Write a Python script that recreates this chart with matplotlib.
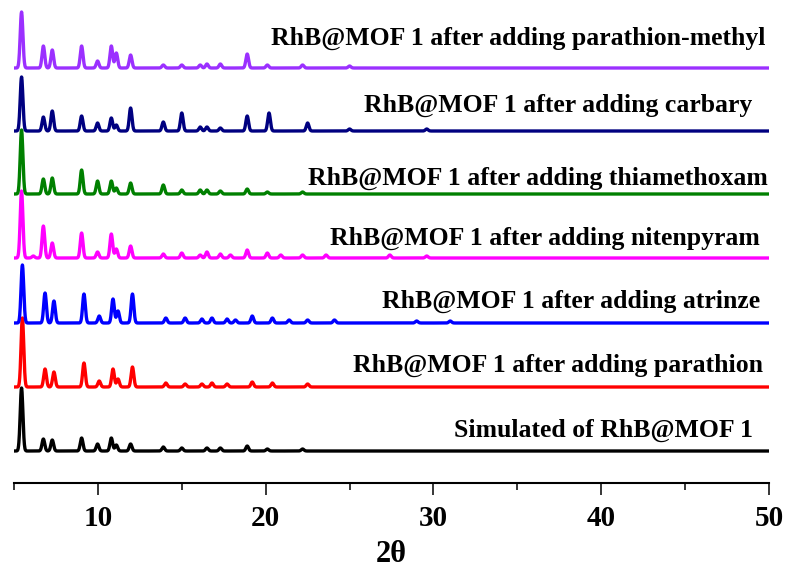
import numpy as np
import matplotlib.pyplot as plt
from matplotlib.ticker import MultipleLocator

plt.rcParams['font.family'] = ['Liberation Serif', 'DejaVu Serif']
plt.rcParams['font.weight'] = 'bold'

# peak positions (2theta) and heights, bottom to top
labels = ['Simulated of RhB@MOF 1',
          'RhB@MOF 1 after adding parathion',
          'RhB@MOF 1 after adding atrinze',
          'RhB@MOF 1 after adding nitenpyram',
          'RhB@MOF 1 after adding thiamethoxam',
          'RhB@MOF 1 after adding carbary',
          'RhB@MOF 1 after adding parathion-methyl']
colors = ['#000000', '#ff0000', '#0000ff', '#ff00ff', '#008000', '#000080', '#9b30ff']

pos_sim = [5.45, 6.75, 7.28, 9.03, 9.98, 10.8, 11.1, 11.95, 13.9, 15.0, 16.5, 17.3, 18.9, 20.1, 22.2]
int_sim = [63, 12, 11, 13, 7, 13, 6, 7, 4, 3, 3, 3, 5, 2, 2]

pos_para = [5.5, 6.85, 7.38, 9.17, 10.08, 10.9, 11.2, 12.06, 14.05, 15.2, 16.2, 16.8, 17.7, 19.2, 20.4, 22.5]
int_para = [69, 18, 15, 24, 6, 18, 8, 20, 4, 3, 3, 4, 3, 5, 4, 3]

pos_atr = [5.5, 6.85, 7.38, 9.17, 10.08, 10.9, 11.2, 12.06, 14.05, 15.2, 16.2, 16.8, 17.7, 18.2, 19.2, 20.4, 21.4, 22.5, 24.1, 29.0, 31.0]
int_atr = [58, 30, 22, 29, 7, 24, 12, 29, 5, 5, 4, 5, 4, 3, 7, 5, 3, 3, 3, 2, 2]

pos_nit = [5.45, 6.15, 6.75, 7.28, 9.03, 9.98, 10.8, 11.1, 11.95, 13.9, 15.0, 16.1, 16.5, 17.3, 17.9, 18.9, 20.1, 20.9, 22.2, 23.6, 27.4, 29.6]
int_nit = [67, 2, 32, 15, 25, 6, 24, 9, 12, 4, 5, 3, 6, 4, 3, 8, 5, 3, 3, 3, 3, 2]

pos_thi = [5.45, 6.75, 7.28, 9.03, 9.98, 10.8, 11.1, 11.95, 13.9, 15.0, 16.1, 16.5, 17.3, 18.9, 20.1, 22.2]
int_thi = [64, 15, 16, 24, 13, 13, 6, 11, 9, 4, 4, 4, 3, 5, 2, 2]

pos_car = [5.45, 6.75, 7.28, 9.03, 9.98, 10.8, 11.1, 11.95, 13.9, 15.0, 16.1, 16.5, 17.3, 18.9, 20.2, 22.5, 25.0, 29.6]
int_car = [54, 14, 20, 15, 8, 13, 6, 23, 9, 18, 4, 4, 3, 15, 18, 8, 2, 2]

pos_pm = [5.45, 6.75, 7.28, 9.03, 9.98, 10.8, 11.1, 11.95, 13.9, 15.0, 16.1, 16.5, 17.3, 18.9, 20.1, 22.2, 25.0]
int_pm = [56, 22, 18, 22, 7, 22, 15, 13, 3, 3, 3, 4, 4, 14, 3, 3, 2]

peaks = [(pos_sim, int_sim), (pos_para, int_para), (pos_atr, int_atr),
         (pos_nit, int_nit), (pos_thi, int_thi), (pos_car, int_car), (pos_pm, int_pm)]

# label anchor (x start, baseline height) and vertical offset of each trace
label_x = [31.25, 25.18, 26.96, 23.81, 22.5, 25.89, 20.3]
label_y = [46, 111, 175, 238, 298, 371, 438]
offsets = [32, 96, 160, 225, 289, 352, 415]

two_theta = np.linspace(5, 50, 4501)
width = 0.08


def pattern(pos, inten):
    y = np.zeros_like(two_theta)
    for p, h in zip(pos, inten):
        y += h * np.exp(-0.5 * ((two_theta - p) / width) ** 2)
    return y


fig = plt.figure(figsize=(7.89, 5.79), dpi=100)
ax = fig.add_axes([14 / 789, 96 / 579, 755 / 789, 478 / 579])

for (pos, inten), off, c in zip(peaks, offsets, colors):
    ax.plot(two_theta, pattern(pos, inten) + off, color=c, lw=2.4)

for lab, lx, ly in zip(labels, label_x, label_y):
    ax.text(lx, ly, lab, fontsize=18.5, fontweight='bold', ha='left', va='baseline')

ax.set_xlim(5, 50)
ax.set_ylim(0, 478)
for s in ['left', 'right', 'top']:
    ax.spines[s].set_visible(False)
ax.spines['bottom'].set_linewidth(1.5)
ax.set_yticks([])
ax.xaxis.set_major_locator(MultipleLocator(10))
ax.xaxis.set_minor_locator(MultipleLocator(5))
ax.tick_params(axis='x', which='major', length=8.5, width=1.1, labelsize=21, pad=7)
ax.tick_params(axis='x', which='minor', length=5, width=1.1)
for t in ax.get_xticklabels():
    t.set_fontweight('bold')
ax.set_xlabel('2θ', fontsize=22, fontweight='bold', labelpad=6)

fig.savefig('out.png', dpi=100)
